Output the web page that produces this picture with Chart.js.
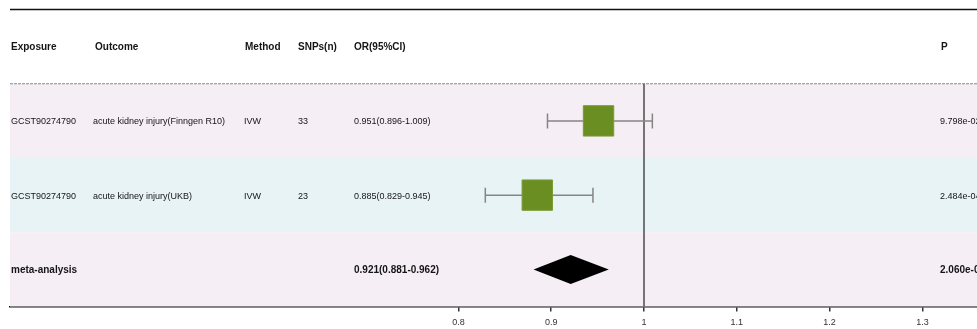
<!DOCTYPE html>
<html>
<head>
<meta charset="utf-8">
<script src="https://cdn.jsdelivr.net/npm/chart.js@4.4.1/dist/chart.umd.min.js"></script>
<style>
  html, body { margin: 0; padding: 0; background: #ffffff; }
  #wrap { width: 977px; height: 329px; }
</style>
</head>
<body>
<div id="wrap"><canvas id="forest" width="977" height="329"></canvas></div>
<script>
// Table columns
const headers = ['Exposure', 'Outcome', 'Method', 'SNPs(n)', 'OR(95%CI)', 'P'];
const exposures = ['GCST90274790', 'GCST90274790', 'meta-analysis'];
const outcomes = ['acute kidney injury(Finngen R10)', 'acute kidney injury(UKB)', ''];
const methods = ['IVW', 'IVW', ''];
const snps = ['33', '23', ''];

// Odds ratios with 95% confidence intervals
const orValues = [0.951, 0.885, 0.921];
const ciLower = [0.896, 0.829, 0.881];
const ciUpper = [1.009, 0.945, 0.962];
const pValues = ['9.798e-02', '2.484e-04', '2.060e-04'];

// Axis ticks
const tickLabels = ['0.8', '0.9', '1', '1.1', '1.2', '1.3'];

// Row layout on the y scale: header on top, summary at the bottom
const rowCount = 4;
const rowCenters = [2.5, 1.5, 0.5];   // study 1, study 2, meta-analysis
const headerCenter = 3.5;

const FONT = '"Liberation Sans", Arial, sans-serif';
const headerX = [11, 95, 245, 298, 354, 941];
const cellX = [11, 93, 244, 298, 354, 940];

const studyPoints = orValues.slice(0, 2).map((v, i) => ({ x: v, y: rowCenters[i] }));

const forestPlugin = {
  id: 'forestTable',
  beforeDatasetsDraw(chart) {
    const { ctx, chartArea: a, scales: { x, y } } = chart;
    ctx.save();
    // striped row backgrounds
    const fills = ['#f5eef5', '#e8f3f6', '#f5eef5'];
    rowCenters.forEach((c, i) => {
      const top = y.getPixelForValue(c + 0.5);
      const bot = y.getPixelForValue(c - 0.5);
      ctx.fillStyle = fills[i];
      ctx.fillRect(a.left, top, a.right - a.left, bot - top);
    });
    // top rule
    ctx.strokeStyle = '#111';
    ctx.lineWidth = 1.5;
    ctx.beginPath();
    ctx.moveTo(a.left, a.top);
    ctx.lineTo(a.right, a.top);
    ctx.stroke();
    // dashed rule under the header
    const hb = y.getPixelForValue(headerCenter - 0.5);
    ctx.strokeStyle = '#8a8a8a';
    ctx.lineWidth = 1;
    ctx.setLineDash([3, 1]);
    ctx.beginPath();
    ctx.moveTo(a.left, hb);
    ctx.lineTo(a.right, hb);
    ctx.stroke();
    ctx.setLineDash([]);
    // reference line at OR = 1
    const x1 = x.getPixelForValue(1);
    ctx.strokeStyle = '#555';
    ctx.lineWidth = 1.6;
    ctx.beginPath();
    ctx.moveTo(x1, hb);
    ctx.lineTo(x1, a.bottom);
    ctx.stroke();
    // confidence interval whiskers for the individual studies
    ctx.strokeStyle = '#858585';
    ctx.lineWidth = 1.5;
    for (let i = 0; i < 2; i++) {
      const yc = y.getPixelForValue(rowCenters[i]);
      const xl = x.getPixelForValue(ciLower[i]);
      const xr = x.getPixelForValue(ciUpper[i]);
      ctx.beginPath();
      ctx.moveTo(xl, yc); ctx.lineTo(xr, yc);
      ctx.moveTo(xl, yc - 7.5); ctx.lineTo(xl, yc + 7.5);
      ctx.moveTo(xr, yc - 7.5); ctx.lineTo(xr, yc + 7.5);
      ctx.stroke();
    }
    ctx.restore();
  },
  afterDatasetsDraw(chart) {
    const { ctx, chartArea: a, scales: { x, y } } = chart;
    ctx.save();
    // pooled estimate diamond
    const yc = y.getPixelForValue(rowCenters[2]);
    const half = 14.5;
    ctx.fillStyle = '#000';
    ctx.beginPath();
    ctx.moveTo(x.getPixelForValue(ciLower[2]), yc);
    ctx.lineTo(x.getPixelForValue(orValues[2]), yc - half);
    ctx.lineTo(x.getPixelForValue(ciUpper[2]), yc);
    ctx.lineTo(x.getPixelForValue(orValues[2]), yc + half);
    ctx.closePath();
    ctx.fill();

    // table text
    ctx.fillStyle = '#151515';
    ctx.textBaseline = 'middle';
    ctx.textAlign = 'left';
    const hy = y.getPixelForValue(headerCenter) + 1;
    ctx.font = 'bold 10px ' + FONT;
    headers.forEach((h, i) => ctx.fillText(h, headerX[i], hy));

    rowCenters.forEach((c, i) => {
      const ry = y.getPixelForValue(c) + 1;
      const isMeta = i === 2;
      ctx.font = (isMeta ? 'bold 10px ' : '9px ') + FONT;
      const orText = orValues[i].toFixed(3) + '(' + ciLower[i].toFixed(3) + '-' + ciUpper[i].toFixed(3) + ')';
      const cells = [exposures[i], outcomes[i], methods[i], snps[i], orText, pValues[i]];
      cells.forEach((t, j) => { if (t) ctx.fillText(t, cellX[j], ry); });
    });
    ctx.restore();
  }
};

new Chart(document.getElementById('forest'), {
  type: 'scatter',
  data: {
    datasets: [{
      label: 'OR',
      data: studyPoints,
      pointStyle: 'rect',
      pointRadius: 21.5,
      pointHoverRadius: 21.5,
      backgroundColor: '#6b8e23',
      borderColor: '#7a9a35',
      borderWidth: 1
    }]
  },
  options: {
    responsive: false,
    devicePixelRatio: 1,
    animation: false,
    events: [],
    layout: { autoPadding: false, padding: { top: 9.5, left: 10, right: 0, bottom: 0 } },
    plugins: { legend: { display: false }, tooltip: { enabled: false } },
    scales: {
      x: {
        type: 'linear',
        min: 1 - 634 / 928,
        max: 1 + 333 / 928,
        afterBuildTicks(scale) {
          scale.ticks = tickLabels.map(t => ({ value: Number(t) }));
        },
        afterFit(scale) { scale.height = 22.5; },
        ticks: {
          autoSkip: false,
          maxRotation: 0,
          padding: 6,
          color: '#333',
          font: { family: FONT, size: 9 },
          callback: (v) => String(v)
        },
        grid: { drawOnChartArea: false, drawTicks: true, tickLength: 5, color: '#333', lineWidth: 1.5 },
        border: { display: true, color: '#111', width: 1.5 }
      },
      y: {
        type: 'linear',
        min: 0,
        max: rowCount,
        display: false
      }
    }
  },
  plugins: [forestPlugin]
});
</script>
</body>
</html>
